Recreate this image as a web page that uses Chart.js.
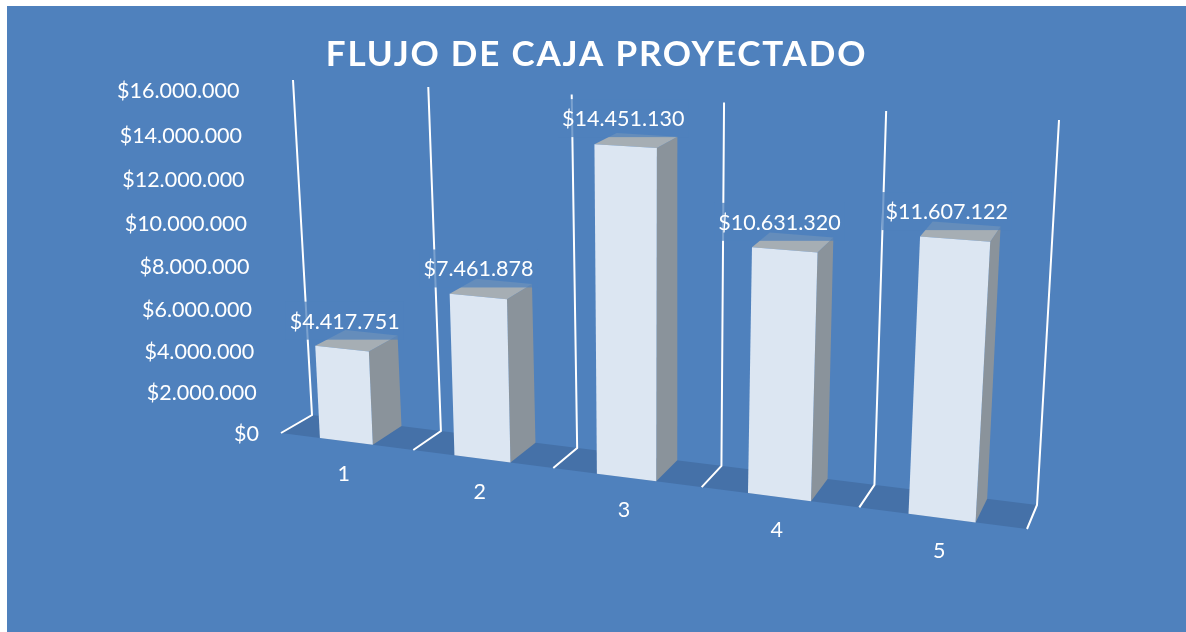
<!DOCTYPE html>
<html>
<head>
<meta charset="utf-8">
<title>Flujo de caja proyectado</title>
<script src="https://cdn.jsdelivr.net/npm/chart.js@4"></script>
<style>
  html,body{margin:0;padding:0;background:#fff;width:1186px;height:632px;overflow:hidden}
  #fondo{position:absolute;left:7px;top:6px;right:0;bottom:0;background:#4f81bd}
  #grafico{position:absolute;left:0;top:0}
</style>
</head>
<body>
<div id="fondo"></div>
<canvas id="grafico" width="1186" height="632"></canvas>
<script>
const categorias = ["1","2","3","4","5"];
const valores = [4417751,7461878,14451130,10631320,11607122];
const titulo = "FLUJO DE CAJA PROYECTADO";
const ejeMax = 16000000;
const ejePaso = 2000000;

// PERSPECTIVA: esquinas (abajo-izq, abajo-der, arriba-der, arriba-izq)
const FRENTE = [[281,433],[1027,529],[1051,132],[261.5,88.5]];
const FONDO = [[312,415],[1037,505],[1059,120],[293,80]];

const FUENTE = "Lato";

function dinero(n){
  return "$"+String(n).replace(/\B(?=(\d{3})+$)/g,".");
}

// unit square -> quad
function homografia(q){
  let [p0,p1,p2,p3] = q;
  let dx1=p1[0]-p2[0], dy1=p1[1]-p2[1];
  let dx2=p3[0]-p2[0], dy2=p3[1]-p2[1];
  let sx=p0[0]-p1[0]+p2[0]-p3[0], sy=p0[1]-p1[1]+p2[1]-p3[1];
  let den=dx1*dy2-dx2*dy1;
  let g=(sx*dy2-dx2*sy)/den, h=(dx1*sy-sx*dy1)/den;
  let a=p1[0]-p0[0]+g*p1[0], b=p3[0]-p0[0]+h*p3[0];
  let d=p1[1]-p0[1]+g*p1[1], e=p3[1]-p0[1]+h*p3[1];
  return (u,v)=>{
    let w=g*u+h*v+1;
    return [(a*u+b*v+p0[0])/w,(d*u+e*v+p0[1])/w];
  };
}
const frente = homografia(FRENTE);
const fondo = homografia(FONDO);

function poligono(ctx,puntos,color){
  ctx.beginPath();
  puntos.forEach((p,i)=> i ? ctx.lineTo(p[0],p[1]) : ctx.moveTo(p[0],p[1]));
  ctx.closePath();
  ctx.fillStyle=color;
  ctx.fill();
}

// BARRAS 3D: same bar layout as the library, drawn through the projection
class Barra3dController extends Chart.BarController {
  draw(){
    let ctx=this.chart.ctx, area=this.chart.chartArea;
    this._cachedMeta.data.forEach(bar=>{
      let u0=(bar.x-bar.width/2-area.left)/area.width;
      let u1=(bar.x+bar.width/2-area.left)/area.width;
      let v=(bar.base-bar.y)/area.height;
      poligono(ctx,[frente(u1,0),frente(u1,v),fondo(u1,v),fondo(u1,0)],"#8a939b");
      poligono(ctx,[frente(u0,v),frente(u1,v),fondo(u1,v),fondo(u0,v)],"#a6aeb4");
      poligono(ctx,[frente(u0,0),frente(u1,0),frente(u1,v),frente(u0,v)],"#dce6f2");
    });
  }
}
Barra3dController.id="barra3d";
Barra3dController.defaults={...Chart.BarController.defaults};
Chart.register(Barra3dController);

const escena = {
  id:"escena",
  beforeDraw(c){
    c.ctx.letterSpacing="1.8px";
  },
  beforeDatasetsDraw(c){
    let ctx=c.ctx, n=categorias.length;
    ctx.letterSpacing="0px";

    // piso
    poligono(ctx,[fondo(0,0),fondo(1,0),frente(1,0),frente(0,0)],"#4571a8");

    // lineas
    ctx.save();
    ctx.strokeStyle="#fff";
    ctx.lineWidth=2;
    ctx.lineJoin="miter";
    for(let i=0;i<=n;i++){
      let a=frente(i/n,0), b=fondo(i/n,0), t=fondo(i/n,1);
      ctx.beginPath();
      ctx.moveTo(a[0],a[1]);
      ctx.lineTo(b[0],b[1]);
      ctx.lineTo(t[0],t[1]);
      ctx.stroke();
    }
    ctx.restore();

    // eje de valores
    let y=c.scales.y;
    ctx.save();
    ctx.font=`21.5px ${FUENTE}`;
    ctx.fillStyle="#fff";
    ctx.textAlign="right";
    ctx.textBaseline="middle";
    y.ticks.forEach(t=>{
      let p=frente(0,t.value/ejeMax);
      ctx.fillText(dinero(t.value),p[0]-22,p[1]+1+1.5*t.value/ejeMax);
    });
    ctx.restore();
  },
  afterDatasetsDraw(c){
    let ctx=c.ctx, area=c.chartArea;
    let barras=c.getDatasetMeta(0).data;
    ctx.save();
    ctx.font=`21.5px ${FUENTE}`;
    ctx.textAlign="center";
    ctx.textBaseline="middle";
    barras.forEach((bar,i)=>{
      let u=(bar.x-area.left)/area.width;
      let v=(bar.base-bar.y)/area.height;
      let arriba=frente(u,v), abajo=frente(u,0);

      // etiqueta del eje
      ctx.fillStyle="#fff";
      ctx.fillText(categorias[i],abajo[0]-2.5,abajo[1]+33);

      // etiqueta del valor, con caja semitransparente
      let texto=dinero(valores[i]);
      let x=arriba[0]+9-0.018*arriba[0], y=arriba[1]-27;
      let w=ctx.measureText(texto).width+8;
      ctx.fillStyle="rgba(79,129,189,0.75)";
      ctx.fillRect(x-w/2,y-20,w,38);
      ctx.fillStyle="#fff";
      ctx.fillText(texto,x,y);
    });
    ctx.restore();
  }
};

new Chart(document.getElementById("grafico"),{
  type:"barra3d",
  data:{
    labels:categorias,
    datasets:[{
      data:valores,
      barPercentage:0.4,
      categoryPercentage:1,
      clip:false
    }]
  },
  options:{
    responsive:false,
    animation:false,
    layout:{padding:{left:7,top:6}},
    plugins:{
      legend:{display:false},
      tooltip:{enabled:false},
      title:{
        display:true,
        text:titulo,
        color:"#fff",
        font:{family:FUENTE,size:35,weight:"bold"},
        padding:{top:28,bottom:10}
      }
    },
    scales:{
      x:{type:"category",offset:true,display:false},
      y:{type:"linear",min:0,max:ejeMax,display:false,ticks:{stepSize:ejePaso}}
    }
  },
  plugins:[escena]
});
</script>
</body>
</html>
